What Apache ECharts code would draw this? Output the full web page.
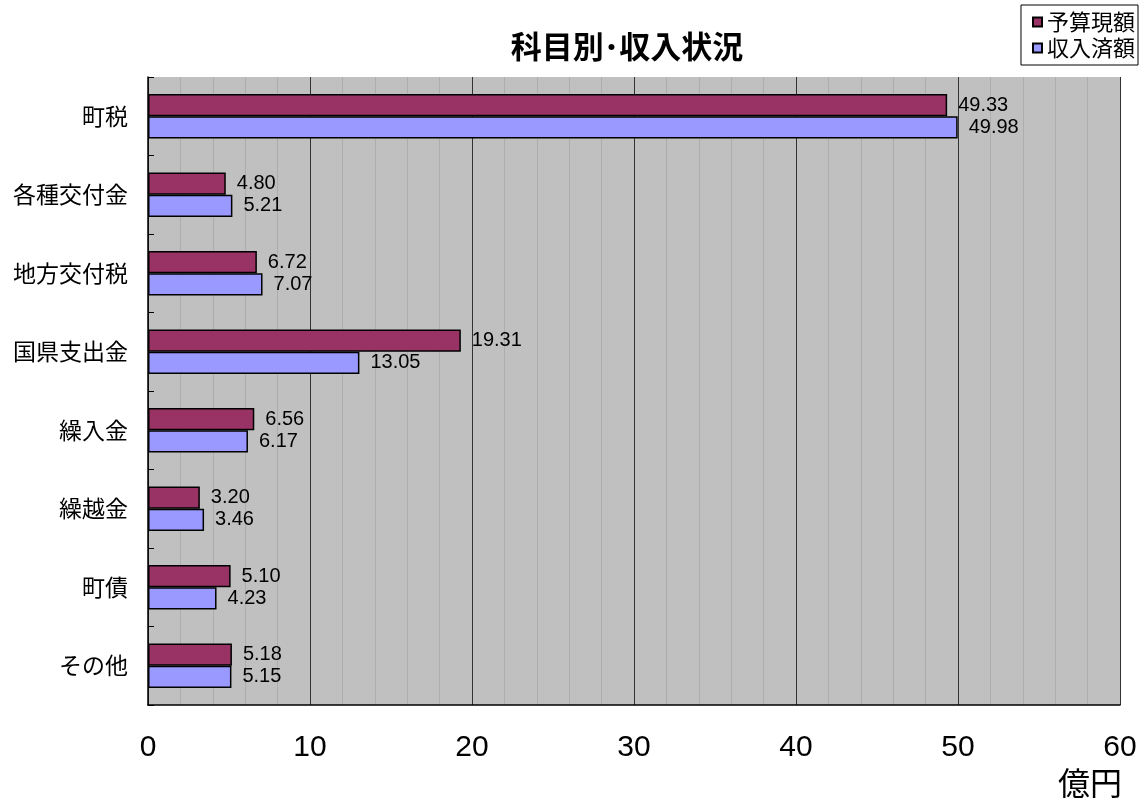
<!DOCTYPE html>
<html><head><meta charset="utf-8">
<script src="https://cdn.jsdelivr.net/npm/echarts@6/dist/echarts.min.js"></script>
<style>html,body{margin:0;padding:0;background:#fff}#c{width:1142px;height:810px}</style>
</head><body><div id="c"></div>
<script>
const categories = ['町税','各種交付金','地方交付税','国県支出金','繰入金','繰越金','町債','その他'];
const budget = [49.33, 4.80, 6.72, 19.31, 6.56, 3.20, 5.10, 5.18];
const revenue = [49.98, 5.21, 7.07, 13.05, 6.17, 3.46, 4.23, 5.15];
const seriesNames = ['予算現額','収入済額'];
const xTicks = [0,10,20,30,40,50,60];
const FONT = '"Liberation Sans","Noto Sans CJK JP",sans-serif';
const JP = '"Noto Sans CJK JP",sans-serif';
const chart = echarts.init(document.getElementById('c'));
const lbl = {show:true, position:'right', distance:11, color:'#000', fontSize:20, fontFamily:FONT, formatter:p=>p.value.toFixed(2)};
chart.setOption({
  animation:false,
  title:{text:'科目別･収入状況', left:622, top:26, textAlign:'center', textStyle:{fontSize:31, fontWeight:'bold', fontFamily:JP, color:'#000'}},
  legend:{orient:'vertical', right:4, top:5, data:seriesNames, icon:'rect', itemWidth:9, itemHeight:9, itemGap:4, padding:[6,3,6,11], borderColor:'#000', borderWidth:1, backgroundColor:'#fff', textStyle:{fontSize:22, fontFamily:JP, color:'#000'}},
  grid:{left:148, right:22, top:77, bottom:105, show:true, backgroundColor:'#c0c0c0', borderWidth:0},
  xAxis:{type:'value', min:0, max:60, interval:10,
    axisLine:{show:true, lineStyle:{color:'#000', width:1.5}},
    axisTick:{show:false},
    axisLabel:{fontSize:30, fontFamily:FONT, color:'#000', margin:28, formatter:v=>xTicks.includes(v)?String(v):''},
    splitLine:{show:true, lineStyle:{color:'#333', width:1}},
    minorTick:{show:false, splitNumber:5},
    minorSplitLine:{show:true, lineStyle:{color:'#adadad', width:1}}
  },
  yAxis:{type:'category', data:categories, inverse:true,
    axisLine:{show:true, lineStyle:{color:'#000', width:1.5}},
    axisTick:{show:true, inside:true, length:6, alignWithLabel:false, lineStyle:{color:'#000'}},
    axisLabel:{fontSize:23, fontFamily:JP, color:'#000', margin:20},
    splitLine:{show:false}
  },
  series:[
    {name:seriesNames[0], type:'bar', data:budget, barGap:'0%', barCategoryGap:'43%', itemStyle:{color:'#993366', borderColor:'#000', borderWidth:1.5}, label:lbl},
    {name:seriesNames[1], type:'bar', data:revenue, barGap:'0%', barCategoryGap:'43%', itemStyle:{color:'#9999ff', borderColor:'#000', borderWidth:1.5}, label:lbl}
  ],
  graphic:[{type:'text', right:20, top:767, style:{text:'億円', fontSize:32, fontFamily:JP, fill:'#000'}}]
});
</script></body></html>
